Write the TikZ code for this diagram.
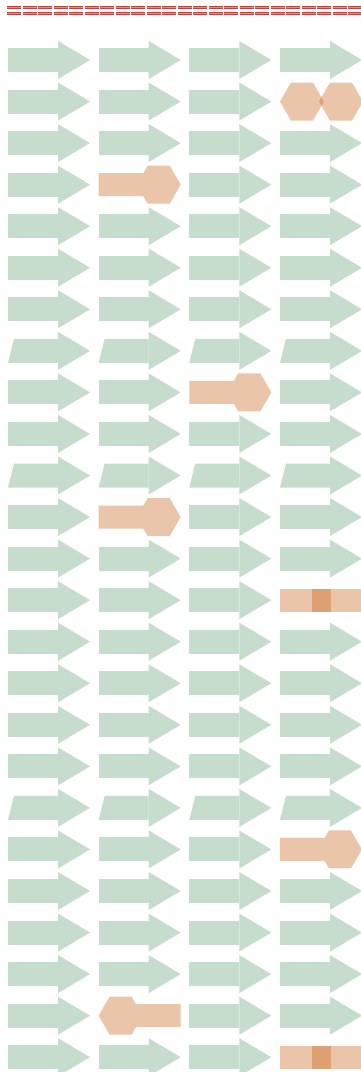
\documentclass[tikz,border=0pt]{standalone}
\usepackage{tikz}

\definecolor{cdsgreen}{HTML}{C6DCCC}
\definecolor{partorange}{HTML}{C8661D}
\definecolor{linered}{HTML}{C4403C}
\definecolor{linepink}{HTML}{E39088}

\begin{document}
\begin{tikzpicture}[x=1pt, y=-1pt,
    cds/.style={fill=cdsgreen},
    part/.style={fill=partorange, fill opacity=0.38},
    seqline/.style={draw=linered, double=linepink, line width=1pt,
        double distance=0.5pt, dash pattern=on 14pt off 1.5pt},
    arrowglyph/.pic={
        \fill[cds] (0,-12) rectangle (50,12);
        \fill[cds] (50,-19) -- (82,0) -- (50,19) -- cycle;
    },
    slantglyph/.pic={
        \fill[cds] (6,-12) -- (50,-12) -- (50,12) -- (0,12) -- cycle;
        \fill[cds] (50,-19) -- (82,0) -- (50,19) -- cycle;
    },
    hexright/.pic={
        \fill[part] (0,-11.5) -- (44.7,-11.5) -- (49,-19) -- (71,-19) -- (82,0)
            -- (71,19) -- (49,19) -- (44.7,11.5) -- (0,11.5) -- cycle;
    },
    hexleft/.pic={
        \fill[part] (0,0) -- (11,-19) -- (33,-19) -- (37.3,-11.5) -- (82,-11.5)
            -- (82,11.5) -- (37.3,11.5) -- (33,19) -- (11,19) -- cycle;
    },
    twohex/.pic={
        \fill[part] (0,0) -- (11,-19) -- (33,-19) -- (44,0) -- (33,19) -- (11,19) -- cycle;
        \fill[part] (39,0) -- (50,-19) -- (72,-19) -- (83,0) -- (72,19) -- (50,19) -- cycle;
    },
    tworect/.pic={
        \fill[part] (0,-11.5) rectangle (51,11.5);
        \fill[part] (32,-11.5) rectangle (83,11.5);
    }]
    \useasboundingbox (0,0) rectangle (361,1072);

    % Top line
    \draw[seqline] (7.3,7.3) -- (361,7.3);
    \draw[seqline] (7.3,13.7) -- (361,13.7);

    % Draw arrows
    \foreach \c/\rows in {1/{1,2,3,4,5,6,7,9,10,12,13,14,15,16,17,18,20,21,22,23,24,25},
                          2/{1,2,3,5,6,7,9,10,13,14,15,16,17,18,20,21,22,23,25},
                          3/{1,2,3,4,5,6,7,10,12,13,14,15,16,17,18,20,21,22,23,24,25},
                          4/{1,3,4,5,6,7,9,10,12,13,15,16,17,18,21,22,23,24}}
        \foreach \r in \rows
            \pic at ({8+(\c-1)*90.65}, {60+(\r-1)*41.55}) {arrowglyph};

    % Slanted rows
    \foreach \c in {1,...,4}
        \foreach \r in {8,11,19}
            \pic at ({8+(\c-1)*90.65}, {60+(\r-1)*41.55}) {slantglyph};

    % Parts
    \pic at (279.95,101.55) {twohex};
    \pic at (98.65,184.65) {hexright};
    \pic at (189.3,392.4) {hexright};
    \pic at (98.65,517.05) {hexright};
    \pic at (279.95,600.15) {tworect};
    \pic at (279.95,849.45) {hexright};
    \pic at (98.65,1015.65) {hexleft};
    \pic at (279.95,1057.2) {tworect};
\end{tikzpicture}
\end{document}
